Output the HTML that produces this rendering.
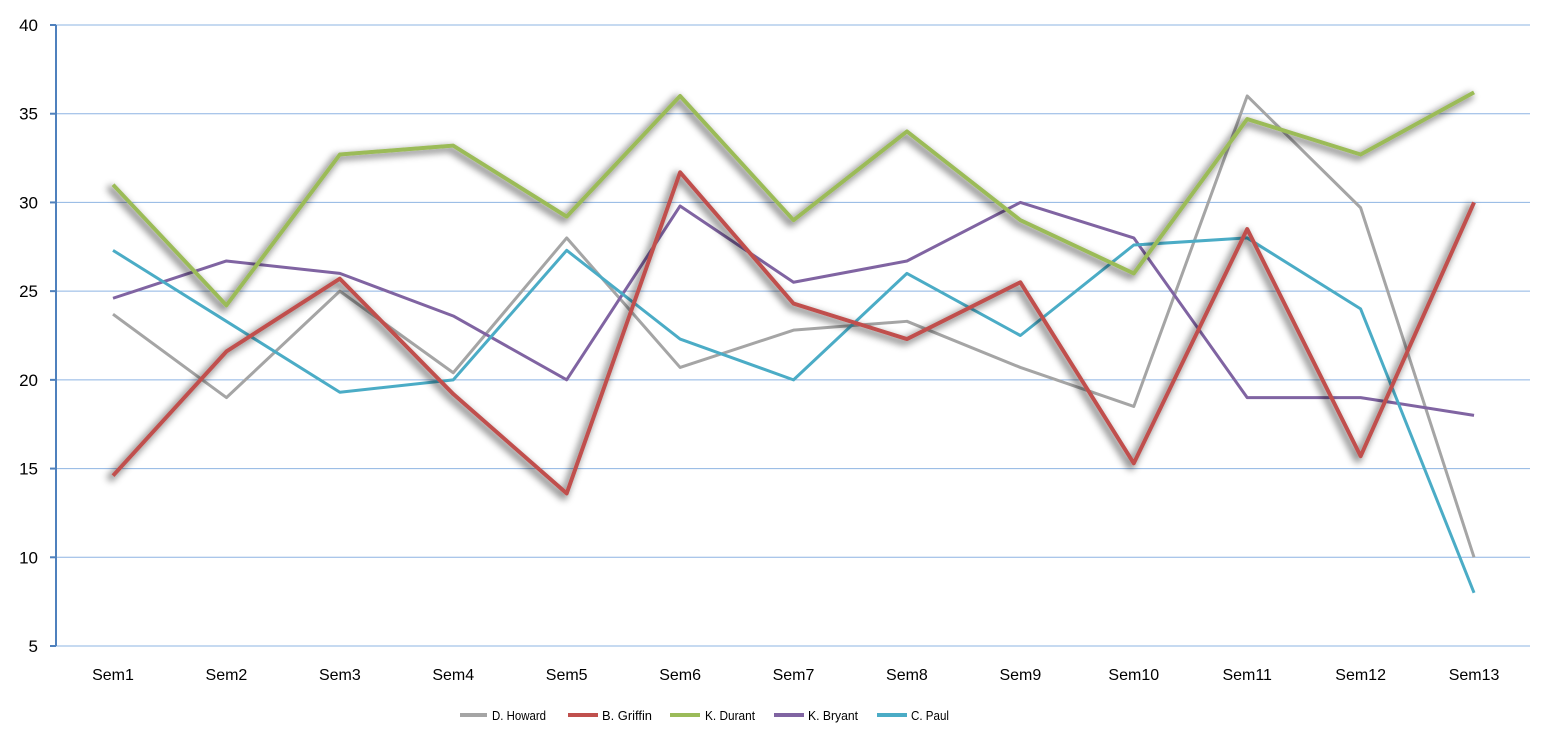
<!DOCTYPE html>
<html><head><style>
body{margin:0;background:#fff;}
svg text{font-family:"Liberation Sans",sans-serif;}
</style></head><body>
<svg id="s" width="1556" height="747" xmlns="http://www.w3.org/2000/svg">
<defs>
<filter id="sh" x="-10%" y="-10%" width="120%" height="120%">
<feMorphology in="SourceAlpha" operator="dilate" radius="1.5" result="d"/>
<feGaussianBlur in="d" stdDeviation="3.5"/>
<feOffset dx="-3" dy="3" result="b"/>
<feFlood flood-color="#000" flood-opacity="0.4"/>
<feComposite in2="b" operator="in"/>
<feMerge><feMergeNode/><feMergeNode in="SourceGraphic"/></feMerge>
</filter>
</defs>
<g id="grid"></g>
<line x1="56" y1="25" x2="56" y2="646" stroke="#4f81bd" stroke-width="2"/>
<g id="lines"></g>
<g font-size="16" fill="#000" id="lab"></g>
<g font-size="13" fill="#000">
<line x1="460" y1="715" x2="487" y2="715" stroke="#a5a5a5" stroke-width="4"/><text x="492" y="720" textLength="54" lengthAdjust="spacingAndGlyphs">D. Howard</text>
<line x1="568" y1="715" x2="598" y2="715" stroke="#c0504d" stroke-width="4"/><text x="602" y="720" textLength="50" lengthAdjust="spacingAndGlyphs">B. Griffin</text>
<line x1="670" y1="715" x2="700" y2="715" stroke="#9bbb59" stroke-width="4"/><text x="705" y="720" textLength="50" lengthAdjust="spacingAndGlyphs">K. Durant</text>
<line x1="774" y1="715" x2="804" y2="715" stroke="#8064a2" stroke-width="4"/><text x="808" y="720" textLength="50" lengthAdjust="spacingAndGlyphs">K. Bryant</text>
<line x1="877" y1="715" x2="907" y2="715" stroke="#4bacc6" stroke-width="4"/><text x="911" y="720" textLength="38" lengthAdjust="spacingAndGlyphs">C. Paul</text>
</g>
</svg>
<script>
var NS="http://www.w3.org/2000/svg";
function el(p,t,a,txt){var e=document.createElementNS(NS,t);for(var k in a)e.setAttribute(k,a[k]);if(txt)e.textContent=txt;document.getElementById(p).appendChild(e);return e;}
function Y(v){return 25+(40-v)*17.743;}
function X(i){return 113+i*113.42;}
for(var v=5;v<=40;v+=5){var y=Y(v);el("grid","line",{x1:56,y1:y,x2:1530,y2:y,stroke:"#8eb4e3","stroke-width":1});el("grid","line",{x1:50,y1:y,x2:56,y2:y,stroke:"#4f81bd","stroke-width":2});el("lab","text",{x:38,y:y+6,"text-anchor":"end","font-size":17},String(v));}
for(var i=0;i<13;i++)el("lab","text",{x:X(i),y:680,"text-anchor":"middle"},"Sem"+(i+1));
var S=[
["#a5a5a5",3,0,[23.7,19,25,20.4,28,20.7,22.8,23.3,20.7,18.5,36,29.7,10]],
["#8064a2",3,0,[24.6,26.7,26,23.6,20,29.8,25.5,26.7,30,28,19,19,18]],
["#4bacc6",3,0,[27.3,23.3,19.3,20,27.3,22.3,20,26,22.5,27.6,28,24,8]],
["#c0504d",4,1,[14.6,21.6,25.7,19.2,13.6,31.7,24.3,22.3,25.5,15.3,28.5,15.7,30]],
["#9bbb59",4,1,[31,24.2,32.7,33.2,29.2,36,29,34,29,26,34.7,32.7,36.2]]];
S.forEach(function(s){var p=s[3].map(function(v,i){return X(i)+","+Y(v)}).join(" ");var a={points:p,fill:"none",stroke:s[0],"stroke-width":s[1],"stroke-linejoin":"round","stroke-linecap":"butt"};if(s[2])a.filter="url(#sh)";el("lines","polyline",a);});
</script>
</body></html>
